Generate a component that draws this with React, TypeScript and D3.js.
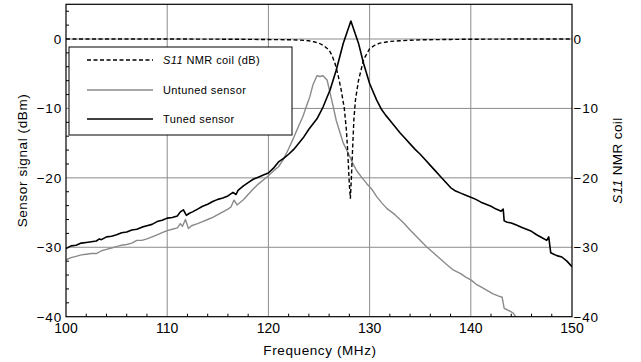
import React from "react";
import * as d3 from "d3";

const W = 641;
const H = 362;

// S11 NMR coil (dB) — dashed
const s11Freq = [100, 105, 110, 115, 118, 120, 122, 123, 124, 124.5, 125, 125.5, 126, 126.3, 126.6, 126.9, 127.2, 127.5, 127.7, 127.85, 128.0, 128.1, 128.2, 128.3, 128.45, 128.6, 128.9, 129.4, 130, 130.5, 131, 132, 133, 135, 138, 140, 145, 150];
const s11Val = [0, 0, 0, -0.02, -0.05, -0.08, -0.1, -0.15, -0.25, -0.4, -0.6, -1.0, -1.6, -2.4, -3.6, -5.3, -7.4, -10.0, -13.0, -16.5, -21.0, -23.0, -20.0, -16.5, -11.5, -8.8, -6.0, -3.0, -1.4, -0.9, -0.6, -0.35, -0.25, -0.12, -0.06, -0.03, 0, 0];

// Untuned sensor — gray
const untunedFreq = [100, 100.5, 101, 101.5, 102, 102.5, 103, 103.5, 104, 104.5, 105, 105.5, 106, 106.5, 107, 107.5, 108, 108.5, 109, 109.5, 110, 110.5, 111, 111.3, 111.5, 111.8, 112.1, 112.4, 113, 113.5, 114, 114.5, 115, 115.5, 116, 116.3, 116.6, 116.9, 117.5, 118, 118.5, 119, 119.5, 120, 120.5, 121, 121.5, 122, 122.5, 123, 123.4, 123.8, 124.1, 124.4, 124.8, 125.1, 125.4, 125.8, 126.1, 126.4, 126.7, 127.1, 127.4, 127.9, 128.3, 128.7, 129.2, 129.7, 130.2, 130.7, 131.2, 131.7, 132.5, 133.3, 134, 134.8, 135.6, 136.3, 137, 137.7, 138.3, 139, 139.5, 140, 140.5, 141, 141.6, 142.2, 142.7, 143.1, 143.3, 143.6, 144, 144.2, 144.5];
const untunedVal = [-31.8, -31.5, -31.3, -31.1, -31.0, -30.9, -30.9, -30.5, -30.3, -30.1, -29.9, -29.7, -29.6, -29.4, -29.0, -29.0, -28.8, -28.5, -28.2, -27.9, -27.6, -27.4, -27.2, -26.6, -27.0, -26.0, -27.3, -26.9, -26.6, -26.3, -26.0, -25.7, -25.3, -24.9, -24.5, -24.2, -23.2, -23.9, -23.2, -22.4, -21.6, -20.9, -20.3, -19.7, -19.0, -18.4, -17.3, -15.8, -14.2, -12.5, -11.2, -9.5, -8.3, -6.6, -5.3, -5.4, -5.3, -5.9, -7.8, -9.7, -11.7, -13.6, -15.0, -16.5, -17.8, -18.9, -19.9, -20.8, -21.6, -22.7, -23.6, -24.4, -25.3, -26.4, -27.5, -28.7, -29.9, -30.8, -31.7, -32.6, -33.3, -33.8, -34.3, -34.7, -35.3, -35.7, -36.2, -36.7, -37.0, -37.2, -38.8, -39.0, -39.3, -39.5, -40.2];

// Tuned sensor — black
const tunedFreq = [100, 100.5, 101, 101.5, 102, 102.5, 103, 103.3, 103.5, 104, 104.5, 105, 105.5, 106, 106.5, 107, 107.5, 108, 108.5, 109, 109.5, 110, 110.5, 111, 111.3, 111.6, 111.9, 112.2, 112.5, 113, 113.5, 114, 114.5, 115, 115.5, 116, 116.5, 116.8, 117, 117.5, 118, 118.5, 119, 119.5, 120, 120.5, 121, 121.5, 122, 122.5, 123, 123.5, 124, 124.8, 125.4, 126.1, 126.7, 127.4, 128.15, 128.9, 129.4, 130, 130.7, 131.2, 131.6, 132, 132.5, 133, 133.5, 134, 134.5, 135, 135.5, 136, 136.5, 137, 137.5, 138, 138.5, 139, 139.5, 140, 140.5, 141, 141.5, 142, 142.5, 143, 143.2, 143.3, 143.6, 144, 144.5, 145, 145.5, 146, 146.5, 147, 147.5, 147.7, 147.9, 148.2, 148.5, 149, 149.5, 150];
const tunedVal = [-30.2, -29.8, -29.7, -29.4, -29.3, -29.2, -29.1, -28.8, -28.9, -28.5, -28.4, -28.2, -27.9, -27.8, -27.5, -27.4, -27.1, -26.9, -26.7, -26.3, -26.1, -25.8, -25.7, -25.5, -24.9, -24.6, -25.4, -25.1, -24.9, -24.5, -24.1, -23.8, -23.4, -23.1, -22.9, -22.6, -22.1, -22.4, -21.8, -21.2, -20.7, -20.2, -19.9, -19.6, -19.3, -18.6, -17.7, -17.2, -16.6, -15.9, -15.0, -14.1, -13.0, -11.5, -9.8, -7.3, -4.5, -0.6, 2.6, -0.6, -3.5, -6.4, -8.8, -10.2, -11.0, -11.7, -12.6, -13.5, -14.3, -15.1, -15.9, -16.6, -17.4, -18.2, -19.0, -19.8, -20.6, -21.4, -21.9, -22.2, -22.5, -22.8, -23.1, -23.5, -23.8, -24.1, -24.5, -24.8, -24.5, -26.2, -26.4, -26.5, -26.8, -27.1, -27.4, -27.7, -28.2, -28.6, -29.0, -28.5, -30.8, -31.0, -31.2, -31.4, -32.0, -32.8];

const xTicks = [100, 110, 120, 130, 140, 150];
const yTicks = [0, -10, -20, -30, -40];
const xMinor = [102, 104, 106, 108, 112, 114, 116, 118, 122, 124, 126, 128, 132, 134, 136, 138, 142, 144, 146, 148];
const yMinor = [4, 2, -2, -4, -6, -8, -12, -14, -16, -18, -22, -24, -26, -28, -32, -34, -36, -38];

const legendLabels = ["NMR coil (dB)", "Untuned sensor", "Tuned sensor"];

const L = 66, R = 572, T = 4.3, B = 316.7;

export default function App() {
  const x = d3.scaleLinear().domain([100, 150]).range([L, R]);
  const y = d3.scaleLinear().domain([-40, 5]).range([B, T]);
  const line = d3.line<[number, number]>().x((d) => x(d[0])).y((d) => y(d[1]));
  const zip = (a: number[], b: number[]) => a.map((v, i) => [v, b[i]] as [number, number]);
  const font = "'Liberation Sans', Arial, sans-serif";
  const fmt = (v: number) => (v < 0 ? "\u2212" + Math.abs(v) : String(v));

  return (
    <svg width={W} height={H} style={{ position: "absolute", left: 0, top: 0, background: "#fff" }} fontFamily={font}>
      <defs>
        <clipPath id="plot">
          <rect x={L} y={T} width={R - L} height={B - T} />
        </clipPath>
      </defs>
      <rect x={0} y={0} width={W} height={H} fill="#fff" />
      {/* grid */}
      {xTicks.slice(1, -1).map((t) => (
        <line key={"gx" + t} x1={x(t)} x2={x(t)} y1={T} y2={B} stroke="#8c8c8c" strokeWidth={1} />
      ))}
      {yTicks.slice(0, -1).map((t) => (
        <line key={"gy" + t} x1={L} x2={R} y1={y(t)} y2={y(t)} stroke="#8c8c8c" strokeWidth={1} />
      ))}
      {/* minor ticks */}
      {xMinor.map((t) => (
        <line key={"mx" + t} x1={x(t)} x2={x(t)} y1={B} y2={B - 3} stroke="#000" strokeWidth={1} />
      ))}
      {yMinor.map((t) => (
        <line key={"my" + t} x1={L} x2={L + 3} y1={y(t)} y2={y(t)} stroke="#000" strokeWidth={1} />
      ))}
      {/* series */}
      <g clipPath="url(#plot)" fill="none">
        <path d={line(zip(untunedFreq, untunedVal)) || ""} stroke="#8a8a8a" strokeWidth={1.4} strokeLinejoin="round" />
        <path d={line(zip(tunedFreq, tunedVal)) || ""} stroke="#000" strokeWidth={1.6} strokeLinejoin="round" />
        <path d={line(zip(s11Freq, s11Val)) || ""} stroke="#000" strokeWidth={1.4} strokeDasharray="4,2.5" />
      </g>
      {/* frame */}
      <rect x={L} y={T} width={R - L} height={B - T} fill="none" stroke="#000" strokeWidth={1.2} />
      {/* tick labels */}
      {yTicks.map((t) => (
        <text key={"yl" + t} x={L - 4} y={y(t)} dy="0.36em" textAnchor="end" fontSize={13.5} letterSpacing={0.8}>
          {fmt(t)}
        </text>
      ))}
      {yTicks.map((t) => (
        <text key={"yr" + t} x={R + 1.5} y={y(t)} dy="0.36em" textAnchor="start" fontSize={13.5} letterSpacing={0.8}>
          {fmt(t)}
        </text>
      ))}
      {xTicks.map((t) => (
        <text key={"xl" + t} x={x(t)} y={B + 16.5} textAnchor="middle" fontSize={14}>
          {t}
        </text>
      ))}
      {/* axis titles */}
      <text x={(L + R) / 2 + 1} y={354.5} textAnchor="middle" fontSize={13.5} letterSpacing={0.6}>
        Frequency (MHz)
      </text>
      <text transform={`translate(27,${(T + B) / 2}) rotate(-90)`} textAnchor="middle" fontSize={13.5} letterSpacing={0.6}>
        Sensor signal (dBm)
      </text>
      <text transform={`translate(622,${(T + B) / 2}) rotate(-90)`} textAnchor="middle" fontSize={13.5} letterSpacing={0.4}>
        <tspan fontStyle="italic">S11</tspan> NMR coil
      </text>
      {/* legend */}
      <rect x={69} y={47} width={223} height={88} fill="#fff" stroke="#000" strokeWidth={1} />
      <line x1={87} x2={153} y1={60} y2={60} stroke="#000" strokeWidth={1.4} strokeDasharray="4,2.5" />
      <line x1={87} x2={153} y1={90} y2={90} stroke="#8a8a8a" strokeWidth={1.4} />
      <line x1={87} x2={153} y1={119} y2={119} stroke="#000" strokeWidth={1.6} />
      <text x={163} y={60} dy="0.36em" fontSize={11} letterSpacing={0.4}>
        <tspan fontStyle="italic">S11</tspan> {legendLabels[0]}
      </text>
      <text x={163} y={90} dy="0.36em" fontSize={11} letterSpacing={0.4}>
        {legendLabels[1]}
      </text>
      <text x={163} y={119} dy="0.36em" fontSize={11} letterSpacing={0.4}>
        {legendLabels[2]}
      </text>
    </svg>
  );
}
